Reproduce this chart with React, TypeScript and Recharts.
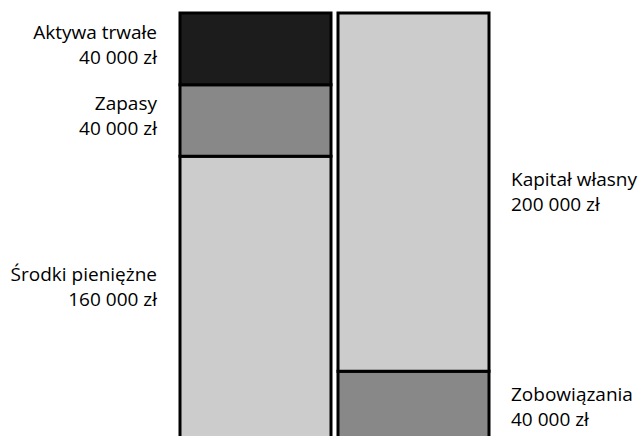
import { BarChart, Bar, XAxis, YAxis, LabelList } from 'recharts';

// bilans: aktywa vs pasywa
const categories = ['Aktywa', 'Pasywa'];
const srodki = [160000, 0];
const zapasy = [40000, 0];
const aktywaTrwale = [40000, 0];
const zobowiazania = [0, 40000];
const kapital = [0, 200000];

const seriesNames = {
  srodki: 'Środki pieniężne',
  zapasy: 'Zapasy',
  aktywaTrwale: 'Aktywa trwałe',
  zobowiazania: 'Zobowiązania',
  kapital: 'Kapitał własny',
};

const data = categories.map((c, i) => ({
  name: c,
  srodki: srodki[i],
  zapasy: zapasy[i],
  aktywaTrwale: aktywaTrwale[i],
  zobowiazania: zobowiazania[i],
  kapital: kapital[i],
}));

const fmt = (v: number) => String(v).replace(/\B(?=(\d{3})+(?!\d))/g, ' ') + ' zł';

const labelFor = (title: string, side: 'left' | 'right', dy = 0) => (props: any) => {
  const { x, y, width, height, value } = props;
  if (!value) return null;
  const cy = Number(y) + Number(height) / 2 + dy;
  const tx = side === 'left' ? Number(x) - 23 : Number(x) + Number(width) + 22;
  return (
    <text
      x={tx}
      y={cy}
      textAnchor={side === 'left' ? 'end' : 'start'}
      fill="#000"
      fontSize={19}
      fontFamily="'Open Sans', sans-serif"
    >
      <tspan x={tx} dy={-6}>{title}</tspan>
      <tspan x={tx} dy={25}>{fmt(value)}</tspan>
    </text>
  );
};

export default function App() {
  return (
    <div style={{ position: 'fixed', top: 0, left: 0, width: 641, height: 436, overflow: 'hidden', background: '#fff' }}>
      <BarChart width={641} height={443} data={data} margin={{ top: 13, right: 149, bottom: 0, left: 176 }} barSize={151}>
        <XAxis dataKey="name" hide />
        <YAxis hide domain={[0, 240000]} />
        <Bar dataKey="srodki" stackId="a" fill="#cccccc" stroke="#000" strokeWidth={3} isAnimationActive={false}>
          <LabelList dataKey="srodki" content={labelFor(seriesNames.srodki, 'left', -13)} />
        </Bar>
        <Bar dataKey="zapasy" stackId="a" fill="#888888" stroke="#000" strokeWidth={3} isAnimationActive={false}>
          <LabelList dataKey="zapasy" content={labelFor(seriesNames.zapasy, 'left', -5)} />
        </Bar>
        <Bar dataKey="aktywaTrwale" stackId="a" fill="#1c1c1c" stroke="#000" strokeWidth={3} isAnimationActive={false}>
          <LabelList dataKey="aktywaTrwale" content={labelFor(seriesNames.aktywaTrwale, 'left', -4)} />
        </Bar>
        <Bar dataKey="zobowiazania" stackId="a" fill="#888888" stroke="#000" strokeWidth={3} isAnimationActive={false}>
          <LabelList dataKey="zobowiazania" content={labelFor(seriesNames.zobowiazania, 'right')} />
        </Bar>
        <Bar dataKey="kapital" stackId="a" fill="#cccccc" stroke="#000" strokeWidth={3} isAnimationActive={false}>
          <LabelList dataKey="kapital" content={labelFor(seriesNames.kapital, 'right')} />
        </Bar>
      </BarChart>
    </div>
  );
}
